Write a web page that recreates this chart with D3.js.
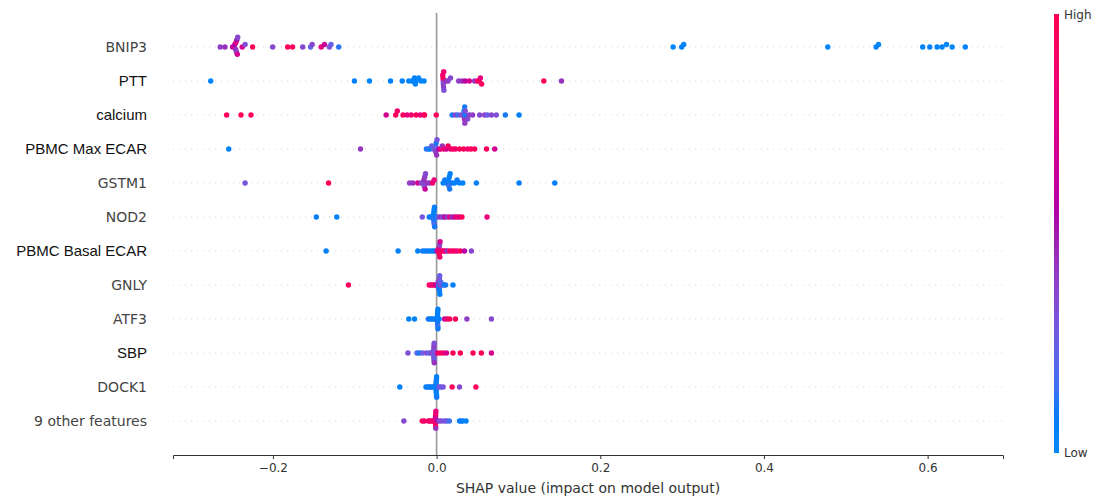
<!DOCTYPE html>
<html>
<head>
<meta charset="utf-8">
<script src="https://cdn.jsdelivr.net/npm/d3@7"></script>
<style>
  body { margin: 0; background: #fff; }
  svg { display: block; }
</style>
</head>
<body>
<svg id="chart" width="1094" height="497"></svg>
<script>
// Features, ordered top to bottom by mean |SHAP|
const features = ["BNIP3", "PTT", "calcium", "PBMC Max ECAR", "GSTM1", "NOD2",
  "PBMC Basal ECAR", "GNLY", "ATF3", "SBP", "DOCK1", "9 other features"];

// Labels that were renamed use a different face
const renamedLabels = ["PTT", "calcium", "PBMC Max ECAR", "PBMC Basal ECAR", "SBP"];

const xTicks = [-0.2, 0.0, 0.2, 0.4, 0.6];
const colorbarLabels = ["High", "Low"];

// Each point: [SHAP value, normalised feature value (0 = low, 1 = high)]
const bnip3 = [
  [-0.2644,0.4],[-0.2586,0.44],[-0.2493,0.64],[-0.2465,0.58],[-0.2455,0.44],[-0.2450,0.8],
  [-0.2445,0.4],[-0.2440,0.5],[-0.2435,0.7],[-0.2430,0.36],[-0.2375,0.7],[-0.2340,0.33],
  [-0.2248,0.96],[-0.2003,0.36],[-0.182,0.96],[-0.176,0.96],[-0.1636,0.36],[-0.154,0.22],
  [-0.152,0.36],[-0.141,0.8],[-0.137,0.64],[-0.131,0.33],[-0.129,0.25],[-0.1196,0.12],
  [0.289,0.02],[0.2995,0.05],[0.302,0.03],[0.478,0.02],[0.537,0.04],[0.540,0.02],
  [0.594,0.03],[0.6026,0.05],[0.6116,0.02],[0.6177,0.04],[0.623,0.03],[0.630,0.02],[0.646,0.04]
];
const ptt = [
  [-0.276,0.02],[-0.1004,0.05],[-0.082,0.03],[-0.0563,0.05],[-0.042,0.04],[-0.034,0.03],
  [-0.030,0.05],[-0.028,0.02],[-0.027,0.06],[-0.026,0.03],[-0.025,0.04],[-0.022,0.02],
  [-0.019,0.05],[-0.0153,0.03],
  [0.0080,0.36],[0.0078,0.96],[0.0082,0.36],[0.0075,0.88],[0.0085,0.4],[0.0087,0.88],[0.0089,0.33],
  [0.012,0.44],[0.014,0.4],[0.017,0.36],[0.027,0.4],[0.031,0.44],[0.035,0.58],[0.040,0.7],
  [0.0465,0.44],[0.050,0.88],[0.052,0.96],[0.0535,0.8],[0.055,0.96],[0.131,0.96],[0.1526,0.44]
];
const calcium = [
  [-0.2566,0.96],[-0.239,0.96],[-0.2268,0.96],[-0.0616,0.7],[-0.050,0.96],[-0.048,0.88],
  [-0.041,0.96],[-0.036,0.8],[-0.031,0.88],[-0.025,0.96],[-0.020,0.8],[-0.0155,0.88],
  [-0.0147,0.96],[-0.0004,0.96],
  [0.019,0.1],[0.023,0.4],[0.026,0.15],[0.030,0.36],[0.033,0.36],[0.0335,0.05],[0.034,0.44],
  [0.0343,0.1],[0.0345,0.4],[0.0348,0.1],[0.035,0.33],[0.038,0.36],[0.040,0.4],[0.044,0.4],
  [0.0526,0.36],[0.0588,0.4],[0.062,0.25],[0.067,0.36],[0.073,0.33],[0.084,0.1],[0.1008,0.05]
];
const pbmcMaxEcar = [
  [-0.254,0.05],[-0.093,0.42],[-0.0125,0.1],[-0.010,0.15],[-0.008,0.05],[-0.006,0.25],
  [-0.004,0.2],[-0.002,0.33],[-0.0015,0.25],[-0.001,0.4],[-0.0005,0.1],[0.000,0.44],
  [0.0005,0.3],[0.003,0.58],[0.005,0.8],[0.007,0.44],[0.009,0.88],[0.012,0.7],[0.014,0.96],
  [0.017,0.8],[0.020,0.96],[0.023,0.88],[0.028,0.96],[0.033,0.96],[0.038,0.88],[0.042,0.96],
  [0.0465,0.96],[0.061,0.96],[0.071,0.7]
];
const gstm1 = [
  [-0.234,0.3],[-0.132,0.96],[-0.033,0.4],[-0.029,0.44],[-0.023,0.7],[-0.019,0.4],
  [-0.016,0.33],[-0.0155,0.44],[-0.015,0.36],[-0.0145,0.4],[-0.014,0.64],[-0.0135,0.36],
  [-0.011,0.44],[-0.008,0.4],[-0.005,0.88],[-0.003,0.8],
  [0.008,0.05],[0.010,0.1],[0.012,0.05],[0.014,0.1],[0.0145,0.05],[0.015,0.15],[0.0155,0.05],
  [0.016,0.1],[0.0165,0.05],[0.019,0.1],[0.022,0.05],[0.025,0.1],[0.028,0.05],[0.032,0.05],
  [0.0486,0.05],[0.1008,0.05],[0.1444,0.05]
];
const nod2 = [
  [-0.147,0.05],[-0.122,0.05],[-0.0175,0.3],[-0.009,0.1],[-0.007,0.05],
  [-0.0040,0.1],[-0.0038,0.05],[-0.0036,0.15],[-0.0034,0.05],[-0.0032,0.1],[-0.0030,0.05],
  [-0.0028,0.2],[-0.0026,0.05],[-0.0024,0.1],[-0.001,0.05],[0.001,0.15],
  [0.004,0.44],[0.007,0.36],[0.010,0.58],[0.013,0.4],[0.016,0.8],[0.019,0.44],[0.022,0.64],
  [0.025,0.88],[0.028,0.7],[0.031,0.96],[0.0616,0.8]
];
const pbmcBasalEcar = [
  [-0.135,0.05],[-0.047,0.05],[-0.023,0.05],[-0.017,0.1],[-0.014,0.05],[-0.011,0.1],
  [-0.008,0.05],[-0.005,0.1],[-0.0025,0.05],[0.0005,0.64],
  [0.0027,0.88],[0.0030,0.8],[0.0033,0.96],[0.0036,0.36],[0.0039,0.88],[0.0042,0.7],
  [0.007,0.88],[0.009,0.96],[0.011,0.8],[0.013,0.44],[0.016,0.96],[0.019,0.88],[0.022,0.96],
  [0.025,0.8],[0.029,0.96],[0.034,0.58],[0.0425,0.36]
];
const gnly = [
  [-0.1077,0.96],[-0.009,0.96],[-0.007,0.88],[-0.005,0.8],[-0.003,0.96],[-0.001,0.58],
  [0.0016,0.88],[0.0020,0.4],[0.0024,0.3],
  [0.0028,0.1],[0.0030,0.36],[0.0032,0.05],[0.0034,0.33],[0.0036,0.1],[0.0038,0.25],[0.0040,0.05],
  [0.0045,0.36],[0.0050,0.2],[0.007,0.3],[0.009,0.1],[0.011,0.1],[0.020,0.05]
];
const atf3 = [
  [-0.034,0.05],[-0.027,0.05],[-0.010,0.1],[-0.008,0.05],[-0.006,0.1],[-0.004,0.05],
  [-0.002,0.1],[0.0000,0.05],
  [0.0009,0.1],[0.0010,0.05],[0.0011,0.1],[0.0012,0.05],[0.0013,0.1],[0.0014,0.05],
  [0.0015,0.15],[0.0016,0.05],[0.0017,0.1],[0.0030,0.05],
  [0.0098,0.64],[0.013,0.88],[0.016,0.96],[0.023,0.96],[0.037,0.4],[0.067,0.36]
];
const sbp = [
  [-0.035,0.33],[-0.024,0.2],[-0.021,0.1],[-0.0175,0.25],[-0.0126,0.33],[-0.009,0.2],
  [-0.007,0.3],[-0.005,0.4],
  [-0.0037,0.36],[-0.0036,0.28],[-0.0035,0.25],[-0.0034,0.36],[-0.0033,0.3],[-0.0032,0.4],
  [-0.0031,0.25],[-0.0030,0.33],[-0.0029,0.44],
  [-0.001,0.25],[0.001,0.8],[0.0045,0.96],[0.008,0.88],[0.012,0.7],[0.020,0.96],[0.029,0.96],
  [0.0445,0.96],[0.0547,0.96],[0.067,0.7]
];
const dock1 = [
  [-0.045,0.05],[-0.013,0.05],[-0.011,0.1],[-0.009,0.05],[-0.007,0.05],[-0.005,0.1],[-0.003,0.05],
  [-0.0008,0.05],[-0.00075,0.1],[-0.0007,0.05],[-0.0006,0.05],[-0.0005,0.1],[-0.0004,0.05],
  [-0.0003,0.05],[-0.0002,0.1],[-0.0001,0.05],[0.0000,0.05],[0.00005,0.1],
  [0.003,0.33],[0.005,0.25],[0.008,0.3],[0.019,0.96],[0.028,0.36],[0.048,0.96]
];
const otherFeatures = [
  [-0.040,0.36],[-0.0175,0.96],[-0.0150,0.88],[-0.010,0.96],[-0.008,0.8],[-0.006,0.96],
  [-0.004,0.88],[-0.003,0.7],
  [-0.0016,0.96],[-0.0015,0.8],[-0.0014,0.88],[-0.0013,0.64],[-0.0012,0.96],[-0.0011,0.88],
  [-0.0010,0.44],[-0.0009,0.8],
  [0.001,0.58],[0.003,0.36],[0.006,0.33],[0.0098,0.3],[0.0125,0.28],[0.0155,0.15],
  [0.028,0.05],[0.030,0.1],[0.032,0.05],[0.036,0.05]
];

const rows = [bnip3, ptt, calcium, pbmcMaxEcar, gstm1, nod2, pbmcBasalEcar,
  gnly, atf3, sbp, dock1, otherFeatures];

// Blue -> purple -> red map interpolated in CIE LCh
function redBlue(t) {
  const l = t < 0.5 ? 54 + (40 - 54) * (t / 0.5) : 40 + (54 - 40) * ((t - 0.5) / 0.5);
  const c = 70 + 20 * t;
  const h = (4.6588 + t * (0.35470565 + 2 * Math.PI - 4.6588)) * 180 / Math.PI;
  return d3.hcl(h, c, l).formatHex();
}

// Vertical jitter: points that share a histogram bin are stacked alternately up and down
function swarmOffsets(vals, rowHeight) {
  const n = vals.length, lo = d3.min(vals), hi = d3.max(vals);
  const quant = vals.map(v => Math.round(100 * (v - lo) / (hi - lo + 1e-8)));
  const order = d3.range(n).sort((a, b) => quant[a] - quant[b] || a - b);
  const ys = new Array(n).fill(0);
  let layer = 0, last = -1;
  for (const i of order) {
    if (quant[i] !== last) layer = 0;
    ys[i] = Math.ceil(layer / 2) * ((layer % 2) * 2 - 1);
    layer++;
    last = quant[i];
  }
  const m = d3.max(ys, d => d + 1);
  return ys.map(d => d * 0.9 * rowHeight / m);
}

const svg = d3.select("#chart");
const plot = { left: 173, right: 1003, top: 13, bottom: 455 };

const allShap = rows.flat().map(d => d[0]);
const [xMin, xMax] = d3.extent(allShap);
const pad = 0.05 * (xMax - xMin);
const x = d3.scaleLinear().domain([xMin - pad, xMax + pad]).range([plot.left, plot.right]);
const y = d3.scaleLinear().domain([-1, features.length]).range([plot.bottom, plot.top]);
const n = features.length;

// Row guide lines
svg.append("g").selectAll("line").data(features).join("line")
  .attr("x1", plot.left).attr("x2", plot.right)
  .attr("y1", (d, i) => y(n - 1 - i)).attr("y2", (d, i) => y(n - 1 - i))
  .attr("stroke", "#cccccc").attr("stroke-width", 0.8).attr("stroke-dasharray", "1 5");

// Zero line
svg.append("line")
  .attr("x1", x(0)).attr("x2", x(0)).attr("y1", plot.top).attr("y2", plot.bottom)
  .attr("stroke", "#999999").attr("stroke-width", 1.6);

// Dots
const dots = svg.append("g");
rows.forEach((pts, i) => {
  const pos = n - 1 - i;
  const offs = swarmOffsets(pts.map(d => d[0]), 0.4);
  dots.append("g").selectAll("circle").data(pts).join("circle")
    .attr("cx", d => x(d[0]))
    .attr("cy", (d, j) => y(pos + offs[j]))
    .attr("r", 2.7)
    .attr("fill", d => redBlue(d[1]));
});

// Feature labels
svg.append("g").selectAll("text").data(features).join("text")
  .attr("x", 147)
  .attr("y", (d, i) => y(n - 1 - i))
  .attr("dy", "0.35em")
  .attr("text-anchor", "end")
  .attr("font-family", d => renamedLabels.includes(d) ? "'Liberation Sans', Arial, sans-serif" : "'DejaVu Sans', sans-serif")
  .attr("font-size", d => renamedLabels.includes(d) ? 15 : 14)
  .attr("fill", d => renamedLabels.includes(d) ? "#111111" : "#444444")
  .text(d => d);

// X axis
const axis = svg.append("g")
  .attr("transform", `translate(0,${plot.bottom})`)
  .call(d3.axisBottom(x).tickValues(xTicks).tickFormat(d3.format(".1f")).tickSizeOuter(0).tickSize(4).tickPadding(4));
axis.select(".domain").attr("stroke", "#333333").attr("stroke-width", 1);
axis.selectAll(".tick line").attr("stroke", "#333333");
axis.selectAll(".tick text")
  .attr("font-family", "'DejaVu Sans', sans-serif")
  .attr("font-size", 12).attr("fill", "#333333");

svg.append("text")
  .attr("x", (plot.left + plot.right) / 2).attr("y", 493)
  .attr("text-anchor", "middle")
  .attr("font-family", "'DejaVu Sans', sans-serif")
  .attr("font-size", 14).attr("fill", "#333333")
  .text("SHAP value (impact on model output)");

// Colour bar
const grad = svg.append("defs").append("linearGradient")
  .attr("id", "fvGrad").attr("x1", 0).attr("x2", 0).attr("y1", 1).attr("y2", 0);
d3.range(0, 1.0001, 0.05).forEach(t => {
  grad.append("stop").attr("offset", t).attr("stop-color", redBlue(t));
});
const cb = { x: 1054, w: 5, top: 14, bottom: 453 };
svg.append("rect")
  .attr("x", cb.x).attr("y", cb.top).attr("width", cb.w).attr("height", cb.bottom - cb.top)
  .attr("fill", "url(#fvGrad)");
svg.append("g").selectAll("text").data(colorbarLabels).join("text")
  .attr("x", cb.x + cb.w + 5)
  .attr("y", (d, i) => i === 0 ? cb.top + 5 : cb.bottom + 4)
  .attr("font-family", "'DejaVu Sans', sans-serif")
  .attr("font-size", 12).attr("fill", "#333333")
  .text(d => d);
</script>
</body>
</html>
